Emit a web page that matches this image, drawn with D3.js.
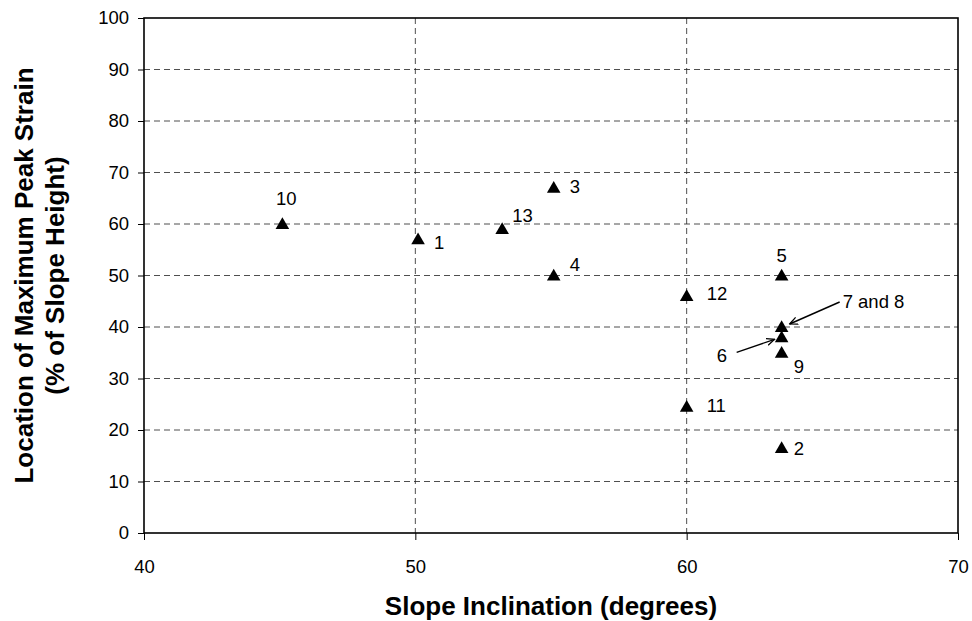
<!DOCTYPE html>
<html><head><meta charset="utf-8">
<script src="https://cdn.jsdelivr.net/npm/d3@7/dist/d3.min.js"></script>
<style>body{margin:0;background:#fff;} svg{font-family:"Liberation Sans",Arial,sans-serif;}</style>
</head><body>
<svg id="c" width="972" height="621"></svg>
<script>
const testIds = ["1","2","3","4","5","6","7 and 8","9","10","11","12","13"];
const inclination = [50.1,63.5,55.1,55.1,63.5,63.5,63.5,63.5,45.1,60.0,60.0,53.2];
const peakLocation = [57,16.5,67,50,50,38,40,35,60,24.5,46,59];
const xTicks = [40,50,60,70];
const yTicks = [0,10,20,30,40,50,60,70,80,90,100];
// label placement: [dx, dy, anchor]
const labelPos = {
  "1":[16,10,"start"],"2":[12,7,"start"],"3":[16,5,"start"],"4":[16,-5,"start"],
  "5":[0,-14,"middle"],"6":[-65,25,"start"],"7 and 8":[61,-19,"start"],"9":[12,20,"start"],
  "10":[4,-19,"middle"],"11":[20,5,"start"],"12":[20,4,"start"],"13":[10,-7,"start"]
};

const svg = d3.select("#c");
const L=144, R=958, T=18, B=533;
const x = d3.scaleLinear().domain([40,70]).range([L,R]);
const y = d3.scaleLinear().domain([0,100]).range([B,T]);

// grid
svg.append("g").selectAll("line").data(yTicks.filter(d=>d>0&&d<100)).join("line")
  .attr("x1",L).attr("x2",R).attr("y1",d=>y(d)).attr("y2",d=>y(d))
  .attr("stroke","#222").attr("stroke-width",0.8).attr("stroke-dasharray","6,4");
svg.append("g").selectAll("line").data(xTicks.filter(d=>d>40&&d<70)).join("line")
  .attr("y1",T).attr("y2",B).attr("x1",d=>x(d)).attr("x2",d=>x(d))
  .attr("stroke","#222").attr("stroke-width",0.8).attr("stroke-dasharray","6,4");

// frame
svg.append("rect").attr("x",L).attr("y",T).attr("width",R-L).attr("height",B-T)
  .attr("fill","none").attr("stroke","#000").attr("stroke-width",1.6);

// axes
const yAxis = d3.axisLeft(y).tickValues(yTicks).tickSize(6).tickPadding(9);
const gy = svg.append("g").attr("transform",`translate(${L},0)`).call(yAxis);
const xAxis = d3.axisBottom(x).tickValues(xTicks).tickSize(7).tickPadding(20);
const gx = svg.append("g").attr("transform",`translate(0,${B})`).call(xAxis);
[gy,gx].forEach(g=>{
  g.select(".domain").remove();
  g.selectAll("text").attr("font-size",18.5).attr("font-family","Liberation Sans, Arial, sans-serif").attr("fill","#000");
  g.selectAll("line").attr("stroke","#000");
});

// points
const tri = d3.symbol().type(d3.symbolTriangle).size(80);
svg.append("g").selectAll("path").data(testIds).join("path")
  .attr("d",tri)
  .attr("transform",(d,i)=>`translate(${x(inclination[i])},${y(peakLocation[i])+1})`)
  .attr("fill","#000");

// labels
svg.append("g").selectAll("text").data(testIds).join("text")
  .attr("x",(d,i)=>x(inclination[i])+labelPos[d][0])
  .attr("y",(d,i)=>y(peakLocation[i])+labelPos[d][1])
  .attr("text-anchor",d=>labelPos[d][2])
  .attr("font-size",18.5).attr("fill","#000").text(d=>d);

// arrows
const defs = svg.append("defs");
defs.append("marker").attr("id","ah").attr("viewBox","0 0 10 10").attr("refX",9).attr("refY",5)
  .attr("markerWidth",9).attr("markerHeight",9).attr("orient","auto").attr("markerUnits","userSpaceOnUse")
  .append("path").attr("d","M0,1 L9,5 L0,9").attr("fill","none").attr("stroke","#000").attr("stroke-width",1.4);
const i78 = testIds.indexOf("7 and 8"), i6 = testIds.indexOf("6");
svg.append("line").attr("x1",x(inclination[i78])+58).attr("y1",y(peakLocation[i78])-25)
  .attr("x2",x(inclination[i78])+8).attr("y2",y(peakLocation[i78])-3)
  .attr("stroke","#000").attr("stroke-width",1.4).attr("marker-end","url(#ah)");
svg.append("line").attr("x1",x(inclination[i6])-45).attr("y1",y(peakLocation[i6])+15)
  .attr("x2",x(inclination[i6])-7).attr("y2",y(peakLocation[i6])+2)
  .attr("stroke","#000").attr("stroke-width",1.4).attr("marker-end","url(#ah)");

// titles
svg.append("text").attr("x",(L+R)/2).attr("y",615).attr("text-anchor","middle")
  .attr("font-size",26).attr("font-weight","bold").text("Slope Inclination (degrees)");
const yt = svg.append("text").attr("transform",`translate(0,${(T+B)/2}) rotate(-90)`)
  .attr("text-anchor","middle").attr("font-size",26).attr("font-weight","bold");
yt.append("tspan").attr("x",0).attr("y",33).text("Location of Maximum Peak Strain");
yt.append("tspan").attr("x",0).attr("y",64).text("(% of Slope Height)");
</script>
</body></html>
